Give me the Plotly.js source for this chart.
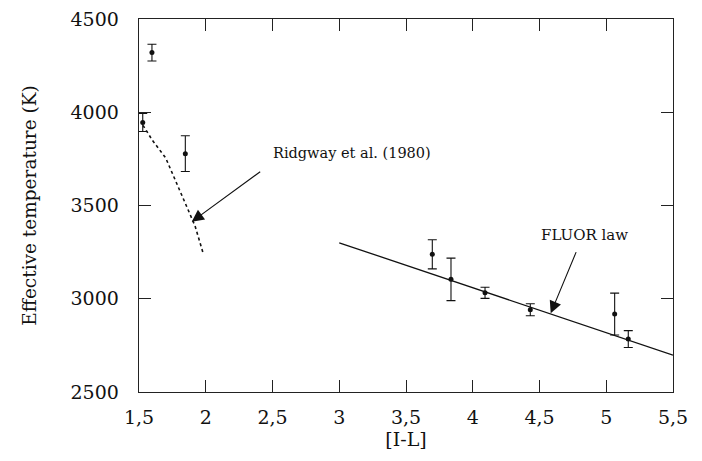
<!DOCTYPE html>
<html>
<head>
<meta charset="utf-8">
<script src="https://cdn.plot.ly/plotly-3.0.1.min.js"></script>
<style>html,body{margin:0;padding:0;background:#fff;} #chart{width:702px;height:461px;}</style>
</head>
<body>
<div id="chart"></div>
<script>
// Observed stars: [I-L] colour, effective temperature, error
const starIL   = [1.528, 1.597, 1.847, 3.697, 3.837, 4.092, 4.431, 5.063, 5.165];
const starTeff = [3945, 4320, 3778, 3238, 3104, 3032, 2941, 2918, 2784];
const starErr  = [48, 45, 96, 78, 114, 30, 32, 112, 45];

// Ridgway et al. (1980) relation (dotted)
const ridgwayIL   = [1.53, 1.60, 1.70, 1.78, 1.86, 1.92, 1.98];
const ridgwayTeff = [3930, 3850, 3755, 3620, 3490, 3390, 3245];

// FLUOR law (solid)
const fluorIL   = [3.0, 5.5];
const fluorTeff = [3300, 2698];

// Axis ticks
const xTickVals = [1.5, 2, 2.5, 3, 3.5, 4, 4.5, 5, 5.5];
const xTickText = ['1,5', '2', '2,5', '3', '3,5', '4', '4,5', '5', '5,5'];
const yTickVals = [2500, 3000, 3500, 4000, 4500];
const yTickText = ['2500', '3000', '3500', '4000', '4500'];

const FONT = '"DejaVu Serif", "Liberation Serif", serif';

const traces = [
  {
    x: ridgwayIL, y: ridgwayTeff, mode: 'lines', type: 'scatter',
    line: {color: '#111', width: 1.6, dash: 'dot'}, hoverinfo: 'skip'
  },
  {
    x: fluorIL, y: fluorTeff, mode: 'lines', type: 'scatter',
    line: {color: '#111', width: 1.3}, hoverinfo: 'skip'
  },
  {
    x: starIL, y: starTeff, mode: 'markers', type: 'scatter',
    marker: {color: '#111', size: 5},
    error_y: {type: 'data', array: starErr, visible: true, color: '#111', thickness: 1.1, width: 4.5}
  }
];

const axisCommon = {
  showgrid: false, zeroline: false, showline: true, linecolor: '#222', linewidth: 1.3,
  mirror: 'ticks', ticks: 'inside', ticklen: 12, tickwidth: 1, tickcolor: '#222',
  tickfont: {family: FONT, size: 19, color: '#111'}
};

const layout = {
  width: 702, height: 461,
  margin: {l: 139, r: 29, t: 19, b: 69},
  paper_bgcolor: '#fff', plot_bgcolor: '#fff',
  showlegend: false,
  font: {family: FONT, color: '#111'},
  xaxis: Object.assign({}, axisCommon, {
    range: [1.5, 5.5], tickmode: 'array', tickvals: xTickVals, ticktext: xTickText,
    ticklabelstandoff: 8,
    title: {text: '[I-L]', font: {family: FONT, size: 19, color: '#111'}, standoff: 4}
  }),
  yaxis: Object.assign({}, axisCommon, {
    range: [2500, 4500], tickmode: 'array', tickvals: yTickVals, ticktext: yTickText,
    ticklabelstandoff: 15,
    title: {text: 'Effective temperature (K)', font: {family: FONT, size: 18.5, color: '#111'}, standoff: 29}
  }),
  annotations: [
    {x: 1.895, y: 3413, ax: 2.419, ay: 3687, xref: 'x', yref: 'y', axref: 'x', ayref: 'y',
     text: '', showarrow: true, arrowhead: 2, arrowsize: 2.2, arrowwidth: 1.1, arrowcolor: '#111'},
    {x: 2.489, y: 3781, xref: 'x', yref: 'y', text: 'Ridgway et al. (1980)', showarrow: false,
     xanchor: 'left', yanchor: 'middle', font: {family: FONT, size: 14.5, color: '#111'}},
    {x: 4.584, y: 2922, ax: 4.779, ay: 3258, xref: 'x', yref: 'y', axref: 'x', ayref: 'y',
     text: '', showarrow: true, arrowhead: 2, arrowsize: 2.2, arrowwidth: 1.1, arrowcolor: '#111'},
    {x: 4.837, y: 3342, xref: 'x', yref: 'y', text: 'FLUOR law', showarrow: false,
     xanchor: 'center', yanchor: 'middle', font: {family: FONT, size: 15, color: '#111'}}
  ]
};

Plotly.newPlot('chart', traces, layout, {staticPlot: true, displayModeBar: false});
</script>
</body>
</html>
